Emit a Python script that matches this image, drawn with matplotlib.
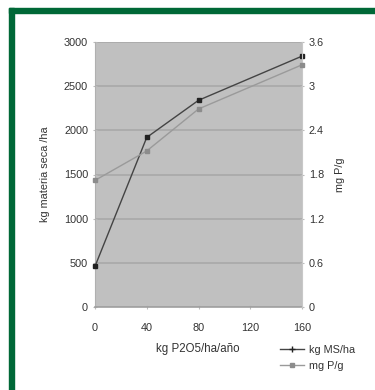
import matplotlib.pyplot as plt
from matplotlib.patches import Rectangle
from matplotlib.lines import Line2D

plt.rcParams['font.family'] = ['Liberation Sans', 'DejaVu Sans']

# Data
dosis = [0, 40, 80, 160]              # kg P2O5/ha/año
materia_seca = [460, 1920, 2340, 2840]  # kg MS/ha (left axis)
fosforo = [1.72, 2.12, 2.69, 3.29]      # mg P/g (right axis)

x_ticks = [0, 40, 80, 120, 160]
y_left_ticks = [0, 500, 1000, 1500, 2000, 2500, 3000]
y_right_ticks = [0, 0.6, 1.2, 1.8, 2.4, 3, 3.6]
y_right_labels = ["0", "0.6", "1.2", "1.8", "2.4", "3", "3.6"]

txt = "#333333"
fs = 7.8

fig = plt.figure(figsize=(3.75, 3.9), dpi=100)
fig.patch.set_facecolor("white")

# green frame (top and left edges)
green = "#006837"
fig.patches.append(Rectangle((9 / 375, 1 - 13 / 390), 1, 5 / 390,
                             transform=fig.transFigure, color=green, zorder=0))
fig.patches.append(Rectangle((9 / 375, 0), 5 / 375, 1 - 8 / 390,
                             transform=fig.transFigure, color=green, zorder=0))

ax = fig.add_axes([95 / 375, 1 - 307 / 390, 207 / 375, 265 / 390])
ax.set_facecolor("#c0c0c0")
ax.set_xlim(0, 160)
ax.set_ylim(0, 3000)
ax.set_yticks(y_left_ticks)
ax.set_yticklabels([str(v) for v in y_left_ticks])
ax.set_xticks(x_ticks)
ax.grid(axis="y", color="#a8a8a8", linewidth=1.2)
ax.set_axisbelow(True)
for s in ["top", "right"]:
    ax.spines[s].set_visible(False)
ax.spines["left"].set_color("#b0b0b0")
ax.spines["bottom"].set_color("#a0a0a0")
ax.spines["bottom"].set_linewidth(1.2)
ax.tick_params(axis="both", labelsize=fs, labelcolor=txt, color="#bbbbbb",
               length=3, direction="inout")
ax.tick_params(axis="x", pad=10)

ax.plot(dosis, materia_seca, color="#444444", linewidth=1.0,
        marker="s", markersize=3, markerfacecolor="#222222",
        markeredgecolor="#222222", clip_on=False, zorder=3)

ax2 = ax.twinx()
ax2.set_ylim(0, 3.6)
ax2.set_yticks(y_right_ticks)
ax2.set_yticklabels(y_right_labels)
for s in ["top", "left", "bottom"]:
    ax2.spines[s].set_visible(False)
ax2.spines["right"].set_color("#c8c8c8")
ax2.tick_params(axis="y", labelsize=fs, labelcolor=txt, color="#bbbbbb",
                length=3, direction="inout")
ax2.plot(dosis, fosforo, color="#9a9a9a", linewidth=1.0,
         marker="s", markersize=3.5, markerfacecolor="#8c8c8c",
         markeredgecolor="#8c8c8c", clip_on=False, zorder=3)

ax.set_ylabel("kg materia seca /ha", fontsize=fs, color=txt, labelpad=10)
ax2.set_ylabel("mg P/g", fontsize=fs, color=txt, labelpad=8)
fig.text(198 / 375, 1 - 349 / 390, "kg P2O5/ha/año", fontsize=fs + 0.5,
         color=txt, ha="center", va="center")

handles = [
    Line2D([], [], color="#444444", linewidth=1.0, marker="+",
           markersize=4, markeredgecolor="#222222"),
    Line2D([], [], color="#9a9a9a", linewidth=1.0, marker="s",
           markersize=3.5, markerfacecolor="#8c8c8c", markeredgecolor="#8c8c8c"),
]
fig.legend(handles, ["kg MS/ha", "mg P/g"], loc="center left",
           bbox_to_anchor=(275 / 375, 1 - 358 / 390), frameon=False,
           fontsize=fs, labelcolor=txt, handlelength=2.2, handletextpad=0.4,
           labelspacing=0.6, borderpad=0)

fig.savefig("out.png", dpi=100)
